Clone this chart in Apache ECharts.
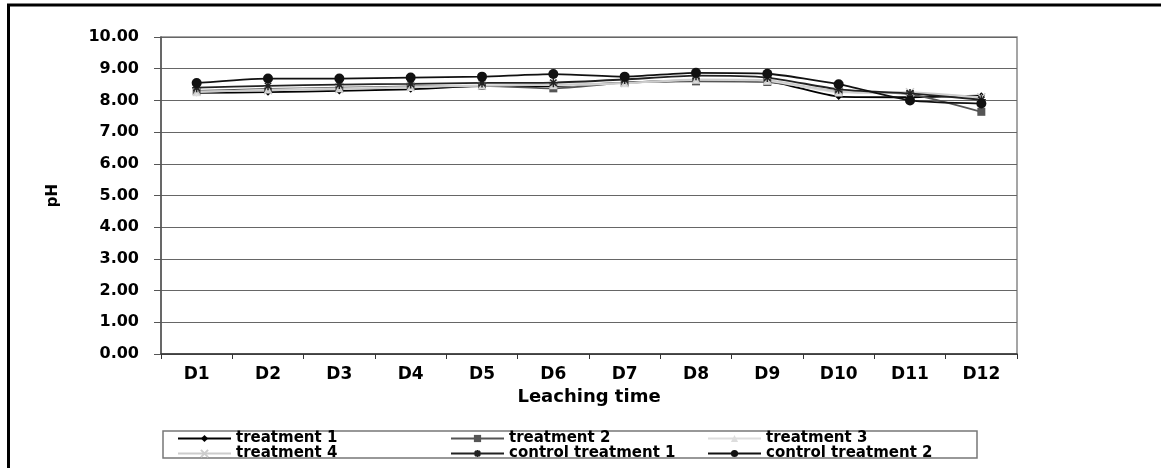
<!DOCTYPE html>
<html>
<head>
<meta charset="utf-8">
<script src="https://cdn.jsdelivr.net/npm/echarts@6/dist/echarts.min.js"></script>
<style>
html,body{margin:0;padding:0;background:#fff;}
#chart{width:1161px;height:468px;}
</style>
</head>
<body>
<div id="chart"></div>
<script>
var categories = ['D1','D2','D3','D4','D5','D6','D7','D8','D9','D10','D11','D12'];
var yTicks = [0,1,2,3,4,5,6,7,8,9,10];
var treatment1 = [8.24, 8.26, 8.30, 8.35, 8.45, 8.45, 8.56, 8.62, 8.60, 8.12, 8.10, 8.15];
var treatment2 = [8.30, 8.36, 8.40, 8.44, 8.46, 8.38, 8.56, 8.60, 8.58, 8.28, 8.20, 7.64];
var treatment3 = [8.26, 8.34, 8.38, 8.42, 8.48, 8.48, 8.54, 8.65, 8.62, 8.25, 8.24, 8.08];
var treatment4 = [8.28, 8.32, 8.36, 8.42, 8.46, 8.50, 8.55, 8.66, 8.64, 8.28, 8.26, 8.10];
var control1 = [8.40, 8.46, 8.50, 8.52, 8.55, 8.56, 8.66, 8.78, 8.72, 8.35, 8.22, 8.02];
var control2 = [8.55, 8.69, 8.69, 8.72, 8.75, 8.83, 8.75, 8.87, 8.84, 8.51, 8.00, 7.90];

var FONT = 'DejaVu Sans';
var xPath = 'path://M0,0L10,10M10,0L0,10';
var starPath = 'path://M5,0L5,10M0,5L10,5M1.5,1.5L8.5,8.5M8.5,1.5L1.5,8.5';

function mk(name, data, color, symbol, size, stroked) {
  var s = {
    name: name, type: 'line', data: data, smooth: 0.2,
    symbol: symbol, symbolSize: size,
    lineStyle: { color: color, width: 1.8 },
    itemStyle: { color: color },
    z: 2
  };
  if (stroked) {
    s.itemStyle = { color: color, borderColor: color, borderWidth: 1.5 };
  }
  return s;
}

var chart = echarts.init(document.getElementById('chart'));
var legendText = { fontFamily: FONT, fontWeight: 'bold', fontSize: 15, color: '#000', lineHeight: 13 };
var legendBase = { orient: 'vertical', top: 431, itemGap: 0, itemWidth: 53, itemHeight: 9, textStyle: legendText, padding: 0 };
chart.setOption({
  animation: false,
  backgroundColor: '#fff',
  grid: { left: 161, right: 144, top: 37, bottom: 114, show: true, borderColor: '#888', borderWidth: 1.5, backgroundColor: 'transparent' },
  xAxis: {
    type: 'category', data: categories, boundaryGap: true,
    name: 'Leaching time', nameLocation: 'middle', nameGap: 31,
    nameTextStyle: { fontFamily: FONT, fontWeight: 'bold', fontSize: 18, color: '#000' },
    axisLine: { lineStyle: { color: '#333', width: 1.5 } },
    axisTick: { show: true, length: 5, lineStyle: { color: '#333' } },
    axisLabel: { fontFamily: FONT, fontWeight: 'bold', fontSize: 17, color: '#000', margin: 12 }
  },
  yAxis: {
    type: 'value', min: yTicks[0], max: yTicks[yTicks.length - 1], interval: 1,
    name: 'pH', nameLocation: 'middle', nameGap: 100, nameRotate: 90,
    nameTextStyle: { fontFamily: FONT, fontWeight: 'bold', fontSize: 15, color: '#000' },
    axisLine: { show: true, lineStyle: { color: '#555', width: 1.5 } },
    axisTick: { show: true, length: 7, lineStyle: { color: '#555' } },
    splitLine: { show: true, lineStyle: { color: '#666', width: 1.2 } },
    axisLabel: { fontFamily: FONT, fontWeight: 'bold', fontSize: 16, color: '#000', margin: 22,
      formatter: function (v) { return v.toFixed(2); } }
  },
  legend: [
    Object.assign({}, legendBase, { left: 177, data: ['treatment 1', 'treatment 4'] }),
    Object.assign({}, legendBase, { left: 450, data: ['treatment 2', 'control treatment 1'] }),
    Object.assign({}, legendBase, { left: 707, data: ['treatment 3', 'control treatment 2'] })
  ],
  graphic: [
    { type: 'rect', shape: { x: 8.5, y: 5, width: 1400, height: 700 }, style: { fill: null, stroke: '#000', lineWidth: 3 }, silent: true },
    { type: 'rect', shape: { x: 163, y: 431, width: 814, height: 27 }, style: { fill: null, stroke: '#777', lineWidth: 1.5 }, silent: true }
  ],
  series: [
    mk('treatment 1', treatment1, '#000', 'diamond', 7, false),
    mk('treatment 2', treatment2, '#555', 'rect', 8, false),
    mk('treatment 3', treatment3, '#ddd', 'triangle', 8, false),
    mk('treatment 4', treatment4, '#ccc', xPath, 8, true),
    mk('control treatment 1', control1, '#222', starPath, 9, true),
    mk('control treatment 2', control2, '#111', 'circle', 10, false)
  ]
});
</script>
</body>
</html>
